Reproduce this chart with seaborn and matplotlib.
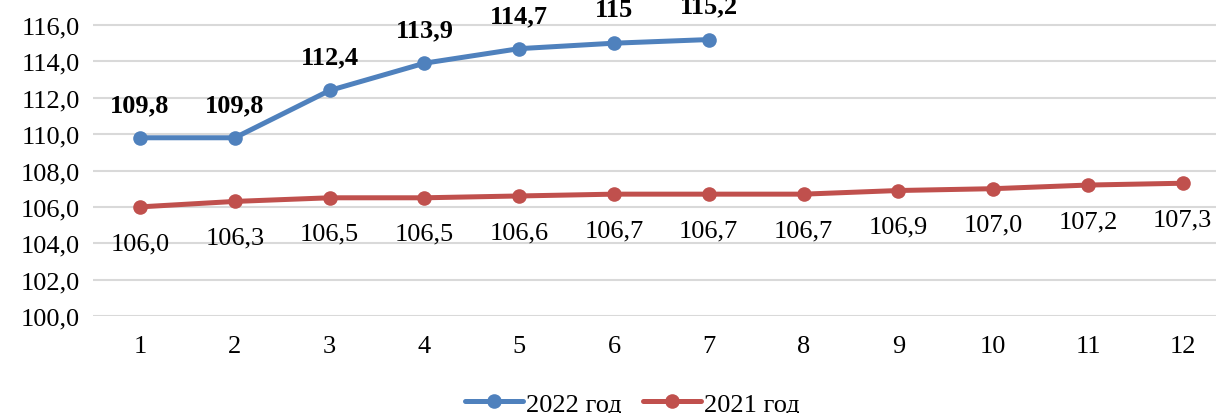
import pandas as pd
import seaborn as sns
import matplotlib.pyplot as plt

months = list(range(1, 13))
vals_2022 = [109.8, 109.8, 112.4, 113.9, 114.7, 115, 115.2]
vals_2021 = [106.0, 106.3, 106.5, 106.5, 106.6, 106.7, 106.7, 106.7, 106.9, 107.0, 107.2, 107.3]
labels_2022 = ['109,8', '109,8', '112,4', '113,9', '114,7', '115', '115,2']
series_names = ['2022 год', '2021 год']
colors = ['#4F81BD', '#C0504D']

df = pd.concat([
    pd.DataFrame({'month': months[:len(vals_2022)], 'value': vals_2022, 'series': series_names[0]}),
    pd.DataFrame({'month': months, 'value': vals_2021, 'series': series_names[1]}),
])

sns.set_style('white')
plt.rcParams['font.family'] = ['Liberation Serif', 'DejaVu Serif']
plt.rcParams['text.color'] = 'black'
plt.rcParams['xtick.color'] = 'black'
plt.rcParams['ytick.color'] = 'black'

fig = plt.figure(figsize=(12.16, 4.14), dpi=100)
ax = fig.add_axes([0.0762, 0.2343, 0.9354, 0.7657])

sns.lineplot(data=df, x='month', y='value', hue='series', hue_order=series_names,
             palette=colors, marker='o', markersize=10.5, markeredgewidth=0,
             linewidth=3.6, ax=ax, legend=True)

for x, y, lab in zip(months, vals_2022, labels_2022):
    ax.annotate(lab, (x, y), xytext=(0, 24), textcoords='offset points',
                ha='center', va='center', fontsize=19, fontweight='bold',
                color='black', annotation_clip=False)
for x, y in zip(months, vals_2021):
    ax.annotate(f'{y:.1f}'.replace('.', ','), (x, y), xytext=(0, -26),
                textcoords='offset points', ha='center', va='center',
                fontsize=19, color='black')

ax.set_xlim(0.5, 12.5)
ax.set_ylim(100, 117.43)
ax.set_yticks(range(100, 117, 2))
ax.set_yticklabels([f'{v},0' for v in range(100, 117, 2)], fontsize=19)
ax.set_xticks(months)
ax.set_xticklabels([str(m) for m in months], fontsize=19)
ax.tick_params(axis='both', length=0)
ax.tick_params(axis='x', pad=14)
ax.tick_params(axis='y', pad=9)
ax.set_xlabel('')
ax.set_ylabel('')
ax.grid(axis='y', color='#D9D9D9', linewidth=1.5)
ax.set_axisbelow(True)
sns.despine(ax=ax, left=True, bottom=True)

h, l = ax.get_legend_handles_labels()
ax.legend(h, l, loc='center', bbox_to_anchor=(0.52, 0.022),
          bbox_transform=fig.transFigure, ncol=2, frameon=False,
          fontsize=19, handlelength=2.2, columnspacing=0.8, handletextpad=0.1)

fig.savefig('out.png', dpi=100)
